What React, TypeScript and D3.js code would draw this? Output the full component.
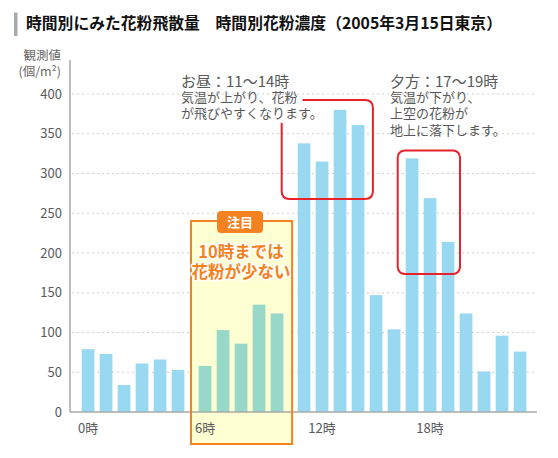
import React from 'react';
import { scaleLinear, range } from 'd3';

const width = 558;
const height = 458;

// hourly pollen counts (個/m²), Tokyo 2005-03-15
const hours = range(0, 24);
const counts = [79, 73, 34, 61, 66, 53, 58, 103, 86, 135, 124, 338, 315, 380, 361, 147, 104, 319, 269, 214, 124, 51, 96, 76];
const yTicks = [0, 50, 100, 150, 200, 250, 300, 350, 400];
const xTickHours = [0, 6, 12, 18];
const lowRange = [6, 10];
const noonRange = [11, 14];
const eveningRange = [17, 19];

const title = '時間別にみた花粉飛散量　時間別花粉濃度（2005年3月15日東京）';
const noonTitle = 'お昼：11〜14時';
const noonLines = ['気温が上がり、花粉', 'が飛びやすくなります。'];
const eveningTitle = '夕方：17〜19時';
const eveningLines = ['気温が下がり、', '上空の花粉が', '地上に落下します。'];
const badge = '注目';
const lowLines = ['10時までは', '花粉が少ない'];

const font = '"Noto Sans CJK JP", "Noto Sans", sans-serif';
const textGray = '#595959';
const barBlue = '#98D8F1';
const barTeal = '#98D8C8';
const orange = '#F58220';
const red = '#E8222B';

const axisX = 70;
const axisRight = 537;
const barW = 12.7;
const step = 18;

// extra half-step gap on each side of the highlighted 6–10時 block
const slot = (h: number) => h + (h >= 6 ? 0.5 : 0) + (h >= 11 ? 0.5 : 0);
const x = scaleLinear().domain([0, 25]).range([81.7, 81.7 + 25 * step]);
const y = scaleLinear().domain([0, 400]).range([412, 94]);

const barX = (h: number) => x(slot(h));
const inRange = (h: number, r: number[]) => h >= r[0] && h <= r[1];

const roundedOpen = (l: number, t: number, r: number, b: number, startX: number, endY: number, rad: number) =>
  `M${startX},${t} H${r - rad} Q${r},${t} ${r},${t + rad} V${b - rad} Q${r},${b} ${r - rad},${b} H${l + rad} Q${l},${b} ${l},${b - rad} V${endY}`;

function rangeLow(r: number[]) {
  // bottom of the noon box sits a bit above the lowest bar top in the range
  const lows = range(r[0], r[1] + 1).map(h => counts[h]);
  return Math.min(...lows) - 47;
}

export default function App() {
  const lowL = barX(lowRange[0]) - 7.7;
  const lowR = barX(lowRange[1]) + barW + 8.7;
  const lowCx = (lowL + lowR) / 2 - 1.5;

  const noonL = barX(noonRange[0]) - 16;
  const noonR = barX(noonRange[1]) + barW + 8.5;
  const noonB = y(rangeLow(noonRange));

  const eveL = barX(eveningRange[0]) - 8;
  const eveR = barX(eveningRange[1]) + barW + 5.6;
  const eveT = y(counts[eveningRange[0]]) - 8;

  return (
    <svg width={width} height={height} style={{ position: 'absolute', left: 0, top: 0 }} fontFamily={font}>
      <rect width={width} height={height} fill='#fff' />

      {/* title */}
      <rect x={14} y={12.5} width={3.5} height={23.5} fill='#A6ABB0' />
      <text x={26} y={28.5} fontSize={15.8} fontWeight='bold' fill='#111'>{title}</text>

      {/* y axis caption */}
      <text x={61} y={59.5} fontSize={12.5} fill='#666' textAnchor='end'>観測値</text>
      <text x={61} y={76} fontSize={12.5} fill='#666' textAnchor='end'>(個/m²)</text>

      {/* grid + y ticks */}
      {yTicks.map(t => (
        <g key={t}>
          {t > 0 && (
            <line x1={axisX + 2} x2={axisRight} y1={y(t)} y2={y(t)} stroke='#cfcfcf' strokeWidth={1} strokeDasharray='2,3' />
          )}
          <text x={62} y={y(t) + 4.5} fontSize={13} fill={textGray} textAnchor='end'>{t}</text>
        </g>
      ))}

      {/* highlight block */}
      <rect x={lowL} y={221} width={lowR - lowL} height={444 - 221} fill='#FFFFD4' />

      {/* bars */}
      {hours.map(h => (
        <rect
          key={h}
          x={barX(h)}
          y={y(counts[h])}
          width={barW}
          height={y(0) - y(counts[h])}
          fill={inRange(h, lowRange) ? barTeal : barBlue}
        />
      ))}

      {/* axes */}
      <line x1={axisX} x2={axisX} y1={60} y2={y(0)} stroke='#a8a8a8' strokeWidth={1.5} />
      <line x1={axisX} x2={axisRight} y1={y(0)} y2={y(0)} stroke='#a8a8a8' strokeWidth={1.5} />
      {xTickHours.map(h => (
        <text key={h} x={barX(h) + barW / 2} y={433} fontSize={13} fill={textGray} textAnchor='middle'>{h}時</text>
      ))}

      {/* highlight border and labels */}
      <rect x={lowL} y={221} width={lowR - lowL} height={444 - 221} fill='none' stroke={orange} strokeWidth={2} />
      <rect x={lowCx - 23} y={211} width={46} height={22} rx={4} fill={orange} />
      <text x={lowCx} y={227} fontSize={13} fontWeight='bold' fill='#fff' textAnchor='middle'>{badge}</text>
      {lowLines.map((s, i) => (
        <text key={s} x={lowCx + 1} y={257.5 + i * 20} fontSize={16.5} fontWeight='bold' fill={orange} textAnchor='middle'
          stroke='#fff' strokeWidth={3} strokeLinejoin='round' paintOrder='stroke'>{s}</text>
      ))}

      {/* noon annotation */}
      <text x={181} y={86.5} fontSize={15} fill={textGray}>{noonTitle}</text>
      {noonLines.map((s, i) => (
        <text key={s} x={181} y={101.5 + i * 16.5} fontSize={13} fill={textGray}>{s}</text>
      ))}
      <path d={roundedOpen(noonL, 100, noonR, noonB, 302.5, 123, 8)} fill='none' stroke={red} strokeWidth={2} />

      {/* evening annotation */}
      <text x={390} y={86.5} fontSize={15} fill={textGray}>{eveningTitle}</text>
      {eveningLines.map((s, i) => (
        <text key={s} x={390} y={101.5 + i * 16.5} fontSize={13} fill={textGray}>{s}</text>
      ))}
      <rect x={eveL} y={eveT} width={eveR - eveL} height={274 - eveT}
        rx={7} fill='none' stroke={red} strokeWidth={2} />
    </svg>
  );
}
